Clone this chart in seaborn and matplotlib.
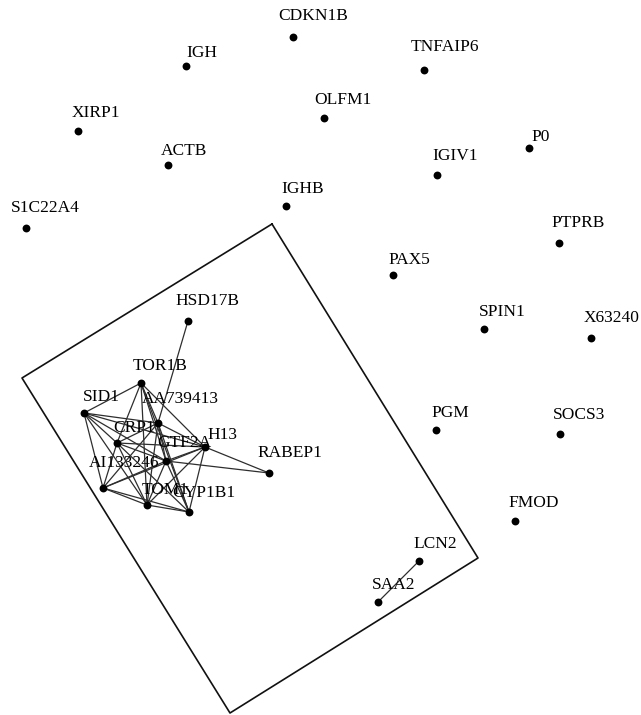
import matplotlib
matplotlib.use("Agg")
import matplotlib.pyplot as plt
import seaborn as sns
import pandas as pd

# Gene network layout (canvas units, y grows downward)
genes = ["CDKN1B", "IGH", "TNFAIP6", "OLFM1", "XIRP1", "P0", "ACTB", "IGIV1",
         "IGHB", "S1C22A4", "PTPRB", "PAX5", "SPIN1", "X63240", "PGM", "SOCS3",
         "FMOD", "LCN2", "SAA2", "HSD17B", "TOR1B", "SID1", "AA739413", "CRP1",
         "GTF2A", "H13", "RABEP1", "AI133246", "TOM1", "CYP1B1"]
node_x = [293, 186, 424, 324, 78, 529, 168, 437,
          286, 26, 559, 393, 484, 591, 436, 560,
          515, 419, 378, 188, 141, 84, 158, 117,
          166, 205, 269, 103, 147, 189]
node_y = [37, 66, 70, 118, 131, 148, 165, 175,
          206, 228, 243, 275, 329, 338, 430, 434,
          521, 561, 602, 321, 383, 413, 423, 443,
          461, 447, 473, 488, 505, 512]

# Label anchor (left edge, vertical centre)
label_x = [278, 186, 411, 314, 72, 531, 161, 432,
           281, 11, 551, 388, 479, 584, 431, 553,
           508, 413, 372, 175, 133, 83, 142, 113,
           157, 207, 257, 89, 142, 172]
label_y = [16, 53, 47, 100, 113, 137, 151, 156,
           189, 208, 223, 260, 312, 318, 413, 415,
           503, 544, 585, 301, 366, 397, 399, 428,
           443, 435, 453, 463, 490, 493]

edges = [
    ("LCN2", "SAA2"),
    ("HSD17B", "AA739413"),
    ("SID1", "TOR1B"), ("SID1", "AA739413"), ("SID1", "CRP1"), ("SID1", "GTF2A"),
    ("SID1", "H13"), ("SID1", "AI133246"), ("SID1", "TOM1"),
    ("TOR1B", "AA739413"), ("TOR1B", "CRP1"), ("TOR1B", "GTF2A"), ("TOR1B", "H13"),
    ("TOR1B", "TOM1"), ("TOR1B", "CYP1B1"),
    ("AA739413", "CRP1"), ("AA739413", "GTF2A"), ("AA739413", "H13"),
    ("AA739413", "AI133246"), ("AA739413", "TOM1"), ("AA739413", "CYP1B1"),
    ("CRP1", "H13"), ("CRP1", "GTF2A"), ("CRP1", "AI133246"), ("CRP1", "TOM1"),
    ("CRP1", "CYP1B1"),
    ("H13", "RABEP1"), ("H13", "GTF2A"), ("H13", "AI133246"), ("H13", "TOM1"),
    ("H13", "CYP1B1"),
    ("GTF2A", "RABEP1"), ("GTF2A", "AI133246"), ("GTF2A", "TOM1"), ("GTF2A", "CYP1B1"),
    ("AI133246", "TOM1"), ("AI133246", "CYP1B1"),
    ("TOM1", "CYP1B1"),
]

# Tilted frame around the dense module
frame_x = [272, 478, 230, 22, 272]
frame_y = [224, 558, 713, 378, 224]

nodes = pd.DataFrame({"gene": genes, "x": node_x, "y": node_y})
pos = nodes.set_index("gene")

sns.set_theme(style="white")
plt.rcParams["font.family"] = ["Liberation Serif", "DejaVu Serif"]

fig = plt.figure(figsize=(6.41, 7.15), dpi=100)
ax = fig.add_axes([0, 0, 1, 1])

ax.plot(frame_x, frame_y, color="#111111", lw=1.2, zorder=1)

for a, b in edges:
    ax.plot([pos.loc[a, "x"], pos.loc[b, "x"]], [pos.loc[a, "y"], pos.loc[b, "y"]],
            color="#2e2e2e", lw=0.9, zorder=2)

sns.scatterplot(data=nodes, x="x", y="y", ax=ax, color="black", s=32,
                edgecolor="black", linewidth=0, zorder=3, legend=False)

for g, lx, ly in zip(genes, label_x, label_y):
    ax.text(lx, ly, g, ha="left", va="center", fontsize=12.5, color="black", zorder=4)

ax.set_xlim(0, 641)
ax.set_ylim(715, 0)
ax.set_axis_off()

fig.savefig("out.png", dpi=100, facecolor="white")
